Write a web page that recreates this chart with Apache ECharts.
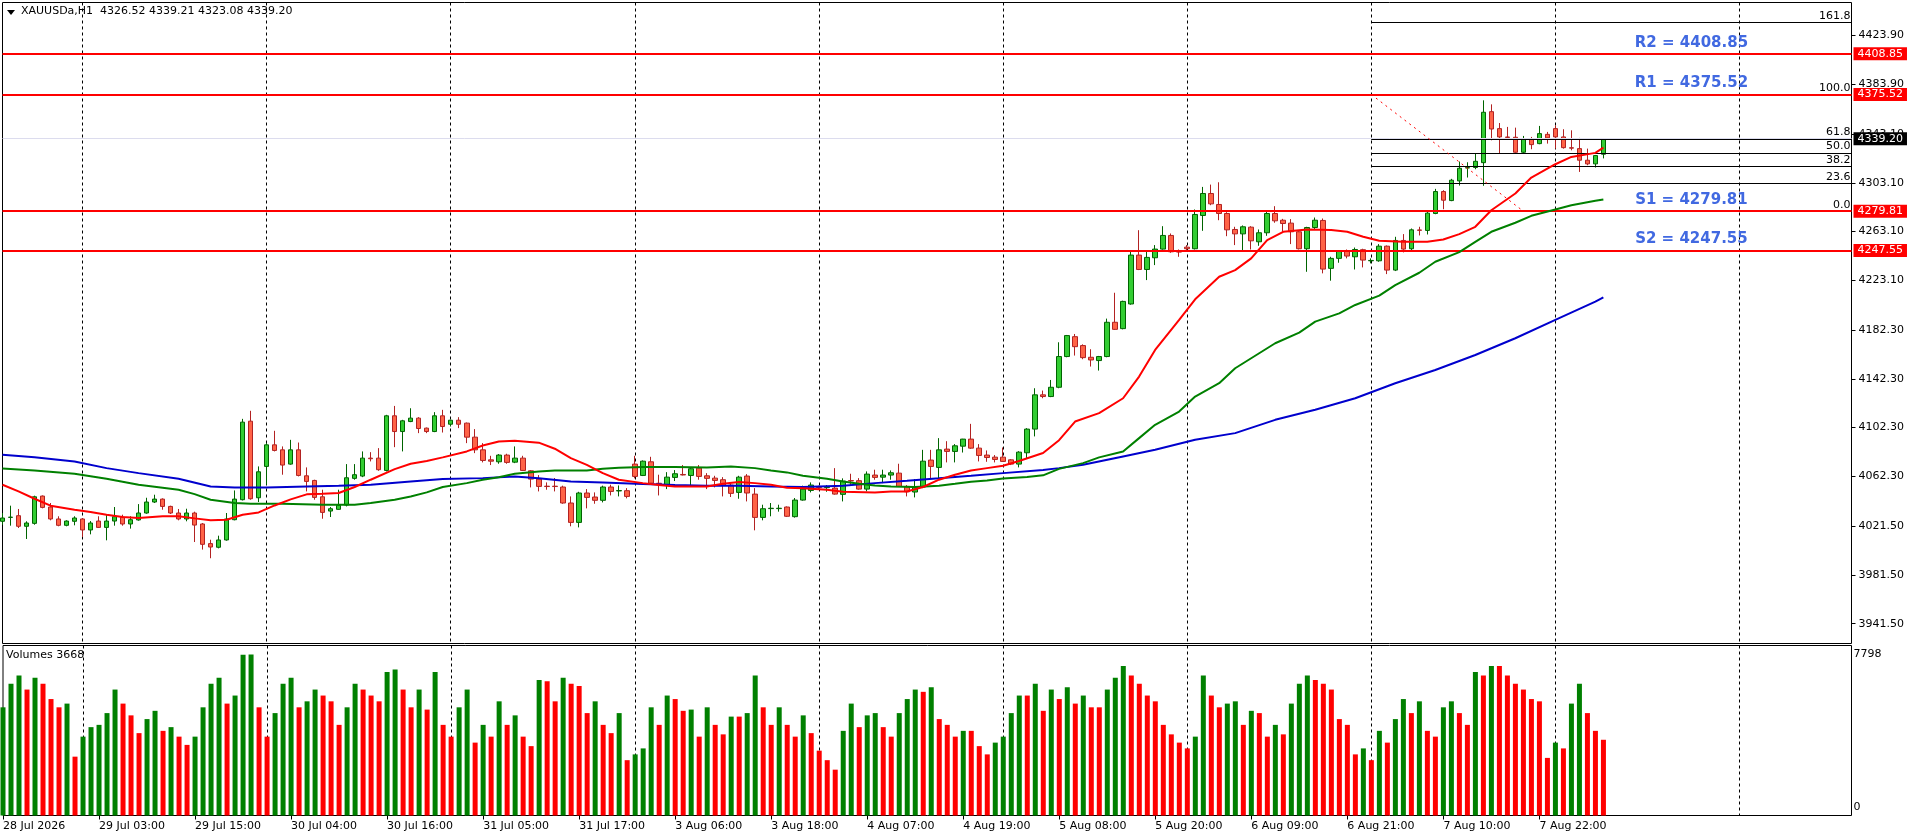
<!DOCTYPE html>
<html>
<head>
<meta charset="utf-8">
<script src="https://cdn.jsdelivr.net/npm/echarts@6.0.0/dist/echarts.min.js"></script>
<style>
  html, body {margin: 0; padding: 0; background: #fff;}
  #chart {width: 1916px; height: 840px;}
</style>
</head>
<body>
<div id="chart"></div>
<script>
// XAUUSDa H1, one bar per hour, bar 0 = 28 Jul 2026 14:00
const opens = [
  4025.5, 4028.7, 4030.1, 4021.4, 4023.8, 4046.2, 4037.2, 4027.4, 4022.2, 4025.5,
  4027.4, 4018.4, 4025.7, 4020.5, 4025.7, 4029.0, 4023.3, 4026.6, 4032.3, 4041.3,
  4043.7, 4037.7, 4032.3, 4027.4, 4032.3, 4023.3, 4007.2, 4004.2, 4010.2, 4026.8,
  4043.2, 4107.6, 4044.8, 4070.5, 4088.2, 4084.1, 4072.4, 4084.1, 4062.8, 4059.0,
  4045.6, 4033.9, 4035.3, 4038.8, 4060.7, 4062.6, 4077.3, 4077.3, 4067.2, 4112.0,
  4099.1, 4107.3, 4110.1, 4101.9, 4099.1, 4112.0, 4105.1, 4108.4, 4106.0, 4094.5,
  4084.1, 4075.9, 4074.3, 4079.8, 4074.0, 4077.3, 4066.9, 4060.1, 4054.3, 4054.3,
  4053.6, 4040.5, 4024.6, 4048.7, 4045.4, 4042.7, 4053.6, 4050.4, 4050.6, 4072.4,
  4063.1, 4074.3, 4056.7, 4055.5, 4061.5, 4063.9, 4063.1, 4069.1, 4062.8, 4060.9,
  4059.6, 4055.2, 4049.2, 4062.6, 4047.8, 4028.7, 4035.9, 4035.9, 4037.2, 4029.3,
  4042.9, 4050.8, 4053.4, 4053.1, 4052.7, 4047.6, 4058.9, 4058.8, 4051.9, 4063.4,
  4061.7, 4063.4, 4065.0, 4054.1, 4049.5, 4053.6, 4075.7, 4069.7, 4084.7, 4082.8,
  4087.1, 4092.9, 4085.5, 4079.8, 4078.1, 4078.1, 4075.9, 4072.4, 4081.7, 4101.1,
  4129.2, 4127.8, 4135.4, 4160.6, 4176.9, 4169.6, 4160.0, 4157.3, 4160.6, 4188.7,
  4183.5, 4203.7, 4243.8, 4232.0, 4241.6, 4248.7, 4259.9, 4246.6, 4250.3, 4249.0,
  4276.3, 4294.3, 4285.3, 4277.9, 4264.8, 4261.2, 4266.7, 4254.7, 4262.1, 4277.9,
  4272.4, 4270.0, 4262.9, 4249.0, 4266.4, 4272.2, 4232.9, 4241.1, 4246.8, 4242.4,
  4248.2, 4239.1, 4239.1, 4251.1, 4231.5, 4255.8, 4249.0, 4264.4, 4264.0, 4277.9,
  4295.9, 4288.5, 4304.6, 4315.2, 4315.6, 4319.6, 4361.4, 4347.5, 4340.6, 4340.4,
  4328.1, 4339.3, 4335.2, 4342.8, 4347.5, 4340.7, 4331.8, 4331.1, 4321.6, 4318.6,
  4326.52
];
const highs = [
  4032.3, 4038.3, 4035.6, 4025.5, 4046.5, 4046.7, 4040.5, 4029.6, 4026.3, 4029.6,
  4028.2, 4025.7, 4029.6, 4030.9, 4037.2, 4030.9, 4029.6, 4039.6, 4044.8, 4047.3,
  4044.3, 4038.3, 4035.6, 4035.8, 4033.4, 4024.1, 4010.4, 4013.7, 4032.3, 4050.8,
  4109.5, 4116.1, 4070.5, 4089.6, 4099.7, 4086.9, 4092.3, 4090.1, 4069.7, 4059.6,
  4051.4, 4037.2, 4051.4, 4072.4, 4072.4, 4082.8, 4082.2, 4085.5, 4112.8, 4120.1,
  4108.7, 4118.2, 4110.9, 4102.4, 4115.0, 4116.9, 4108.7, 4110.9, 4106.5, 4101.1,
  4089.6, 4079.2, 4080.6, 4080.9, 4086.9, 4079.2, 4067.5, 4063.4, 4057.4, 4061.0,
  4054.7, 4045.9, 4049.7, 4051.9, 4049.2, 4054.7, 4055.5, 4054.9, 4052.7, 4079.2,
  4075.4, 4078.4, 4063.7, 4065.8, 4067.5, 4071.6, 4069.4, 4071.6, 4065.0, 4062.8,
  4061.7, 4056.8, 4062.8, 4064.2, 4052.7, 4039.1, 4040.5, 4039.1, 4037.7, 4044.6,
  4054.7, 4057.4, 4054.7, 4055.2, 4069.1, 4060.7, 4064.5, 4060.9, 4066.4, 4067.8,
  4067.8, 4067.2, 4072.7, 4055.2, 4060.1, 4084.1, 4084.1, 4093.7, 4091.2, 4088.8,
  4093.1, 4105.4, 4088.8, 4083.6, 4079.8, 4086.0, 4076.5, 4083.0, 4101.9, 4134.6,
  4132.7, 4141.4, 4172.3, 4178.3, 4179.1, 4170.6, 4166.6, 4161.1, 4191.7, 4212.9,
  4206.4, 4246.8, 4264.2, 4246.5, 4252.0, 4267.5, 4261.5, 4248.4, 4252.0, 4281.2,
  4299.7, 4301.6, 4303.5, 4279.0, 4267.0, 4268.1, 4267.5, 4264.8, 4279.3, 4283.9,
  4273.5, 4273.3, 4263.7, 4267.0, 4274.6, 4273.8, 4242.4, 4247.9, 4248.4, 4250.0,
  4249.0, 4241.1, 4252.8, 4251.7, 4258.8, 4261.0, 4265.6, 4267.0, 4279.3, 4298.1,
  4297.0, 4306.3, 4320.5, 4319.9, 4327.0, 4370.7, 4367.4, 4352.1, 4348.9, 4348.3,
  4341.5, 4340.7, 4349.7, 4344.8, 4350.2, 4347.0, 4346.1, 4339.9, 4331.1, 4325.9,
  4339.21
];
const lows = [
  4022.7, 4021.9, 4020.0, 4011.0, 4022.7, 4036.1, 4026.3, 4021.4, 4021.4, 4022.2,
  4012.6, 4014.8, 4020.0, 4009.9, 4021.9, 4021.9, 4019.5, 4026.0, 4031.7, 4040.5,
  4035.0, 4031.5, 4026.3, 4025.5, 4008.5, 4002.3, 3995.2, 4003.3, 4009.6, 4026.3,
  4042.6, 4043.2, 4041.3, 4055.5, 4082.8, 4063.7, 4071.9, 4062.3, 4050.0, 4043.2,
  4027.6, 4029.0, 4035.0, 4037.7, 4059.6, 4061.7, 4074.6, 4066.9, 4066.4, 4086.3,
  4082.8, 4106.8, 4097.8, 4097.8, 4098.6, 4098.3, 4103.2, 4101.9, 4089.6, 4081.4,
  4073.8, 4071.6, 4072.7, 4072.7, 4073.2, 4066.7, 4053.3, 4050.0, 4051.4, 4050.0,
  4039.9, 4021.4, 4020.5, 4036.1, 4039.9, 4041.0, 4046.7, 4045.9, 4044.3, 4060.7,
  4062.6, 4056.3, 4046.7, 4051.9, 4058.5, 4063.1, 4054.1, 4059.6, 4051.9, 4053.3,
  4045.9, 4045.4, 4044.0, 4041.8, 4018.1, 4026.3, 4029.6, 4033.4, 4029.0, 4028.5,
  4042.4, 4049.2, 4051.4, 4049.7, 4047.3, 4041.8, 4055.2, 4051.4, 4050.0, 4059.6,
  4056.8, 4059.6, 4053.6, 4045.9, 4045.1, 4052.7, 4060.4, 4060.7, 4073.8, 4073.8,
  4081.9, 4084.9, 4074.6, 4074.3, 4073.8, 4074.3, 4071.6, 4069.7, 4076.8, 4095.1,
  4126.4, 4127.3, 4134.6, 4160.0, 4161.4, 4158.4, 4152.4, 4149.1, 4160.0, 4182.4,
  4182.9, 4203.1, 4231.5, 4223.3, 4235.6, 4248.2, 4245.7, 4242.4, 4247.3, 4248.4,
  4263.7, 4284.7, 4272.4, 4259.3, 4252.0, 4247.9, 4248.4, 4251.4, 4259.6, 4270.3,
  4262.9, 4252.8, 4248.4, 4230.1, 4264.8, 4228.8, 4222.8, 4237.5, 4241.1, 4232.0,
  4233.7, 4237.0, 4238.3, 4228.2, 4230.7, 4246.0, 4247.9, 4259.9, 4260.7, 4277.3,
  4281.4, 4288.0, 4300.8, 4307.4, 4314.2, 4300.6, 4337.9, 4327.0, 4339.0, 4327.6,
  4327.0, 4330.6, 4334.7, 4335.2, 4331.1, 4331.1, 4329.7, 4312.0, 4317.5, 4315.6,
  4323.08
];
const closes = [
  4028.2, 4028.9, 4021.4, 4024.1, 4045.6, 4036.9, 4027.4, 4022.2, 4025.7, 4028.2,
  4018.4, 4024.1, 4020.5, 4025.7, 4029.3, 4023.3, 4026.8, 4032.3, 4041.3, 4043.7,
  4037.7, 4032.3, 4027.4, 4032.3, 4022.4, 4006.6, 4004.4, 4010.2, 4027.4, 4043.7,
  4106.8, 4044.0, 4066.1, 4088.2, 4083.6, 4071.6, 4084.1, 4063.1, 4058.2, 4045.1,
  4032.8, 4035.8, 4038.6, 4061.2, 4063.7, 4077.3, 4076.8, 4067.8, 4112.0, 4099.1,
  4107.9, 4110.1, 4101.6, 4099.1, 4112.0, 4103.2, 4108.4, 4105.1, 4094.5, 4084.1,
  4075.4, 4074.8, 4079.8, 4073.8, 4077.3, 4067.2, 4060.1, 4054.1, 4054.0, 4054.0,
  4040.5, 4024.6, 4048.7, 4045.1, 4042.7, 4053.6, 4050.0, 4050.7, 4045.9, 4062.3,
  4074.8, 4056.8, 4056.3, 4061.7, 4064.5, 4063.5, 4068.6, 4062.3, 4060.7, 4059.0,
  4055.2, 4048.4, 4061.7, 4048.7, 4028.7, 4035.8, 4036.2, 4036.2, 4029.6, 4042.9,
  4051.9, 4055.2, 4053.1, 4053.4, 4047.8, 4058.5, 4058.6, 4051.9, 4064.2, 4061.5,
  4063.4, 4065.3, 4054.1, 4049.7, 4053.6, 4074.8, 4070.5, 4084.1, 4082.8, 4087.4,
  4092.9, 4085.5, 4079.5, 4077.8, 4076.2, 4074.6, 4072.4, 4082.2, 4101.1, 4129.2,
  4127.8, 4135.4, 4160.6, 4177.8, 4168.7, 4159.7, 4157.8, 4160.6, 4188.7, 4182.9,
  4205.8, 4243.8, 4232.0, 4241.9, 4248.7, 4259.9, 4246.5, 4246.3, 4249.0, 4277.1,
  4294.3, 4285.8, 4277.9, 4264.5, 4261.2, 4267.0, 4255.5, 4262.1, 4277.9, 4271.9,
  4269.7, 4262.9, 4249.0, 4266.4, 4272.4, 4232.3, 4241.1, 4246.8, 4243.0, 4248.4,
  4239.7, 4239.4, 4251.1, 4231.5, 4255.8, 4248.7, 4264.5, 4264.1, 4278.2, 4295.9,
  4288.8, 4305.2, 4315.0, 4315.5, 4320.7, 4360.9, 4347.2, 4340.7, 4340.3, 4328.1,
  4339.3, 4334.4, 4343.4, 4339.9, 4340.7, 4331.9, 4331.5, 4321.6, 4318.6, 4325.4,
  4339.20
];
const volumes = [
  5240, 6380, 6780, 6100, 6670, 6380, 5640, 5240, 5420, 2850,
  3820, 4280, 4390, 4960, 6100, 5420, 4850, 3990, 4670, 5070,
  4100, 4280, 3820, 3420, 3820, 5240, 6380, 6670, 5420, 5810,
  7780, 7798, 5240, 3820, 4960, 6380, 6670, 5240, 5530, 6100,
  5810, 5530, 4390, 5240, 6380, 6100, 5810, 5530, 6950, 7070,
  6100, 5240, 6100, 5130, 6950, 4390, 3820, 5240, 6100, 3530,
  4390, 3820, 5530, 4390, 4850, 3820, 3360, 6560, 6500, 5530,
  6670, 6380, 6270, 4960, 5530, 4390, 3990, 4960, 2680, 2960,
  3250, 5240, 4390, 5810, 5640, 5070, 5130, 3820, 5240, 4390,
  3930, 4790, 4790, 4960, 6780, 5240, 4390, 5240, 4390, 3820,
  4850, 3990, 3140, 2680, 2220, 4100, 5420, 4280, 4850, 4960,
  4280, 3820, 4960, 5640, 6100, 5990, 6210, 4670, 4390, 3820,
  4100, 4100, 3360, 2960, 3530, 3820, 4960, 5810, 5810, 6380,
  5070, 6100, 5640, 6210, 5420, 5810, 5240, 5240, 6100, 6670,
  7240, 6780, 6380, 5810, 5530, 4390, 3930, 3530, 3250, 3820,
  6780, 5810, 5240, 5420, 5530, 4390, 5070, 4960, 3820, 4390,
  3930, 5420, 6380, 6780, 6560, 6380, 6100, 4670, 4390, 2960,
  3250, 2680, 4100, 3530, 4670, 5640, 4960, 5530, 4100, 3820,
  5240, 5530, 4960, 4390, 6950, 6780, 7240, 7240, 6780, 6380,
  6100, 5640, 5530, 2790, 3530, 3250, 5420, 6380, 4960, 4100,
  3668
];

// moving averages: [bar, price]
const redMA = [
  [0, 4055.5], [2, 4050.0], [4, 4044.0], [6, 4038.3], [9, 4035.0], [11, 4033.1], [13, 4030.9],
  [15, 4029.0], [17, 4028.2], [20, 4029.6], [22, 4029.6], [24, 4027.9], [26, 4026.3], [28, 4026.8],
  [30, 4030.9], [32, 4032.8], [34, 4038.5], [36, 4043.5], [38, 4047.6], [40, 4048.1], [42, 4048.7],
  [44, 4053.6], [46, 4059.6], [49, 4068.3], [51, 4072.7], [53, 4074.9], [55, 4077.9], [58, 4082.8],
  [60, 4087.7], [62, 4091.0], [64, 4091.5], [67, 4090.0], [69, 4085.0], [71, 4077.3], [73, 4071.8],
  [75, 4065.0], [77, 4059.6], [80, 4056.8], [82, 4055.2], [84, 4054.1], [88, 4054.1], [90, 4056.3],
  [92, 4057.7], [94, 4056.8], [96, 4055.5], [98, 4053.0], [100, 4052.5], [103, 4051.4], [105, 4049.7],
  [109, 4049.2], [111, 4050.0], [113, 4050.0], [115, 4053.6], [117, 4059.6], [119, 4063.7], [121, 4067.2],
  [123, 4069.1], [125, 4071.0], [127, 4075.0], [130, 4081.5], [132, 4092.0], [134, 4107.3], [137, 4114.2],
  [140, 4126.4], [142, 4144.2], [144, 4166.0], [147, 4190.6], [149, 4207.5], [152, 4226.0], [154, 4231.5],
  [156, 4241.1], [158, 4256.1], [160, 4262.9], [163, 4264.8], [166, 4264.3], [168, 4262.9], [170, 4258.8],
  [172, 4255.5], [175, 4254.7], [178, 4254.7], [180, 4256.6], [182, 4261.0], [184, 4267.0], [186, 4280.6],
  [189, 4294.3], [191, 4307.4], [194, 4318.3], [196, 4324.3], [199, 4327.6], [200, 4331.9]
];
const greenMA = [
  [0, 4068.8], [4, 4067.2], [9, 4064.5], [13, 4060.4], [17, 4055.5], [22, 4051.4], [24, 4047.8],
  [26, 4043.2], [29, 4040.5], [31, 4039.9], [35, 4039.9], [40, 4039.1], [44, 4039.1], [46, 4040.5],
  [49, 4043.2], [51, 4045.9], [53, 4049.2], [55, 4053.6], [58, 4056.8], [60, 4059.6], [62, 4061.7],
  [64, 4064.5], [67, 4066.4], [69, 4067.2], [73, 4067.2], [75, 4068.6], [77, 4069.4], [80, 4070.0],
  [84, 4070.0], [88, 4069.7], [91, 4070.5], [94, 4069.1], [96, 4067.2], [98, 4065.6], [100, 4062.8],
  [103, 4060.4], [105, 4058.2], [107, 4056.3], [109, 4054.9], [111, 4054.1], [114, 4053.6], [117, 4054.7],
  [119, 4056.3], [121, 4058.0], [123, 4059.0], [125, 4060.5], [128, 4061.8], [130, 4063.2], [132, 4068.5],
  [135, 4073.2], [137, 4077.9], [140, 4082.8], [142, 4093.7], [144, 4104.6], [147, 4115.5], [149, 4127.8],
  [152, 4138.7], [154, 4151.0], [157, 4163.3], [159, 4171.5], [162, 4180.2], [164, 4189.2], [167, 4196.0],
  [169, 4202.9], [172, 4210.5], [174, 4219.2], [177, 4229.3], [179, 4238.3], [182, 4246.2], [184, 4254.7],
  [186, 4262.9], [189, 4270.3], [191, 4276.0], [194, 4281.2], [196, 4284.7], [199, 4288.3], [200, 4289.4]
];
const blueMA = [
  [0, 4080.0], [4, 4078.1], [9, 4074.6], [13, 4069.1], [17, 4065.0], [22, 4060.4], [26, 4054.1],
  [29, 4053.3], [33, 4053.3], [38, 4054.1], [42, 4054.7], [46, 4055.5], [51, 4058.2], [55, 4060.1],
  [60, 4060.9], [64, 4062.3], [67, 4060.7], [71, 4058.2], [75, 4057.4], [80, 4056.0], [84, 4055.2],
  [88, 4054.7], [92, 4054.7], [96, 4054.1], [100, 4053.6], [105, 4054.7], [109, 4056.8], [113, 4058.7],
  [117, 4060.7], [121, 4062.8], [125, 4065.0], [130, 4067.5], [132, 4069.1], [135, 4071.9], [140, 4078.7],
  [144, 4084.1], [149, 4092.3], [154, 4097.8], [159, 4108.7], [164, 4116.9], [169, 4126.4], [174, 4138.7],
  [179, 4149.6], [184, 4161.9], [189, 4175.6], [194, 4190.6], [199, 4205.6], [200, 4209.1]
];

// x labels, one every 12 bars
const xLabels = [
  '28 Jul 2026', '29 Jul 03:00', '29 Jul 15:00', '30 Jul 04:00', '30 Jul 16:00', '31 Jul 05:00',
  '31 Jul 17:00', '3 Aug 06:00', '3 Aug 18:00', '4 Aug 07:00', '4 Aug 19:00', '5 Aug 08:00',
  '5 Aug 20:00', '6 Aug 09:00', '6 Aug 21:00', '7 Aug 10:00', '7 Aug 22:00'
];
const priceTicks = [4423.90, 4383.90, 4343.10, 4303.10, 4263.10, 4223.10, 4182.30, 4142.30,
  4102.30, 4062.30, 4021.50, 3981.50, 3941.50];
const volumeTicks = [0, 7798];

// pivot levels
const levelNames = ['R2', 'R1', 'S1', 'S2'];
const levelValues = [4408.85, 4375.52, 4279.81, 4247.55];
// fibonacci from 4375.52 (bar 171) down to 4279.81 (bar 190)
const fibRatios = [161.8, 100.0, 61.8, 50.0, 38.2, 23.6, 0.0];
const fibLow = 4279.81, fibHigh = 4375.52;
const fibFrom = 171, fibTo = 190;
const lastPrice = 4339.20;

const FONT = 'DejaVu Sans';
const N_SLOTS = 232;  // bars + empty shift on the right
const cats = Array.from({length: N_SLOTS}, (_, i) => String(i));

const candleData = opens.map((o, i) => [o, closes[i], lows[i], highs[i]]);
const volData = volumes.map((v, i) => ({
  value: v,
  itemStyle: {color: (i === 0 || v > volumes[i - 1]) ? '#008000' : '#ff0000'}
}));

const isGridDay = i => i >= 10 && (i - 10) % 23 === 0;
const isLabelBar = i => i % 12 === 0 && i <= 192;

function tagLabel(text, bg) {
  return {
    show: true, position: 'end', distance: 2, formatter: text,
    backgroundColor: bg, color: '#fff', fontFamily: FONT, fontSize: 11,
    padding: [1, 4, 0, 4], lineHeight: 12
  };
}

const fibLines = fibRatios.map(r => {
  const v = fibLow + (fibHigh - fibLow) * r / 100;
  return [
    {coord: [fibFrom, v], lineStyle: {color: '#000', width: 1, type: 'solid'},
      label: {show: true, position: 'insideEndTop', distance: 1, formatter: r.toFixed(1),
        color: '#000', fontFamily: FONT, fontSize: 11}},
    {coord: [N_SLOTS - 1, v]}
  ];
});

const levelLines = levelValues.map(v => ({
  yAxis: v, lineStyle: {color: '#ff0000', width: 2, type: 'solid'},
  label: tagLabel(v.toFixed(2), '#ff0000')
}));

const trendLine = [
  {coord: [fibFrom, fibHigh], lineStyle: {color: '#ff0000', width: 1, type: [2, 4]}, label: {show: false}},
  {coord: [fibTo, fibLow]}
];

const bidLine = {
  yAxis: lastPrice, lineStyle: {color: '#dcdcee', width: 1, type: 'solid'},
  label: tagLabel(lastPrice.toFixed(2), '#000')
};

const chart = echarts.init(document.getElementById('chart'), null, {renderer: 'canvas'});

const maSeries = (data, color) => ({
  type: 'line', data: data, xAxisIndex: 0, yAxisIndex: 0,
  showSymbol: false, symbol: 'none', smooth: false, z: 5,
  lineStyle: {color: color, width: 2}, silent: true
});

chart.setOption({
  animation: false,
  backgroundColor: '#fff',
  grid: [
    {left: 2.5, right: 64.5, top: 2.5, height: 641, show: true, borderColor: '#000', borderWidth: 1},
    {left: 2.5, right: 64.5, top: 645.5, height: 170, show: true, borderColor: '#000', borderWidth: 1}
  ],
  xAxis: [
    {
      type: 'category', gridIndex: 0, data: cats, boundaryGap: false,
      axisLine: {show: false}, axisTick: {show: false}, axisLabel: {show: false},
      splitLine: {show: true, interval: i => isGridDay(i), lineStyle: {color: '#000', type: [3, 3], width: 1}}
    },
    {
      type: 'category', gridIndex: 1, data: cats, boundaryGap: false,
      axisLine: {show: false},
      axisTick: {show: true, interval: i => isLabelBar(i), length: 4, lineStyle: {color: '#000'}},
      axisLabel: {
        show: true, interval: i => isLabelBar(i),
        formatter: (v, i) => xLabels[Math.round(i / 12)] || '',
        align: 'left', margin: 5, color: '#000', fontFamily: FONT, fontSize: 11
      },
      splitLine: {show: true, interval: i => isGridDay(i), lineStyle: {color: '#000', type: [3, 3], width: 1}}
    }
  ],
  yAxis: [
    {
      type: 'value', gridIndex: 0, position: 'right', min: 3925.29, max: 4450.92, scale: true,
      axisLine: {show: false}, splitLine: {show: false},
      axisTick: {show: true, customValues: priceTicks, length: 4, lineStyle: {color: '#000'}},
      axisLabel: {show: true, customValues: priceTicks, formatter: v => v.toFixed(2), margin: 7,
        color: '#000', fontFamily: FONT, fontSize: 11}
    },
    {
      type: 'value', gridIndex: 1, position: 'right', min: 0, max: 8234,
      axisLine: {show: false}, splitLine: {show: false}, axisTick: {show: false},
      axisLabel: {show: true, customValues: volumeTicks, margin: 2,
        formatter: v => v === 0 ? '{z|0}' : String(v),
        color: '#000', fontFamily: FONT, fontSize: 11,
        rich: {z: {padding: [0, 0, 16, 0], fontFamily: FONT, fontSize: 11, color: '#000'}}}
    }
  ],
  graphic: [
    {type: 'polygon', shape: {points: [[7, 10], [15, 10], [11, 15]]}, style: {fill: '#000'}},
    {type: 'text', left: 21, top: 6, style: {text: 'XAUUSDa,H1  4326.52 4339.21 4323.08 4339.20',
      fill: '#000', font: '11px "DejaVu Sans"'}},
    {type: 'text', left: 6, top: 650, style: {text: 'Volumes 3668', fill: '#000', font: '11px "DejaVu Sans"'}}
  ],
  series: [
    {
      type: 'candlestick', name: 'XAUUSDa', data: candleData, xAxisIndex: 0, yAxisIndex: 0,
      barWidth: 5, z: 3, silent: true,
      itemStyle: {color: '#32cd32', color0: '#ff6347', borderColor: '#006400', borderColor0: '#b22222', borderWidth: 1},
      markLine: {
        silent: true, symbol: ['none', 'none'], animation: false,
        data: [bidLine].concat(fibLines, [trendLine], levelLines)
      },
      markPoint: {
        silent: true, symbol: 'circle', symbolSize: 1, itemStyle: {color: 'rgba(0,0,0,0)'},
        label: {show: true, position: 'inside', offset: [0, -11], formatter: '{b}',
          color: '#4169e1', fontFamily: FONT, fontSize: 15, fontWeight: 'bold'},
        data: levelValues.map((v, k) => ({name: levelNames[k] + ' = ' + v.toFixed(2), coord: [211, v]}))
      }
    },
    maSeries(blueMA, '#0000cd'),
    maSeries(greenMA, '#008000'),
    maSeries(redMA, '#ff0000'),
    {
      type: 'bar', name: 'Volumes', data: volData, xAxisIndex: 1, yAxisIndex: 1,
      barWidth: 5, silent: true
    }
  ]
});
</script>
</body>
</html>
